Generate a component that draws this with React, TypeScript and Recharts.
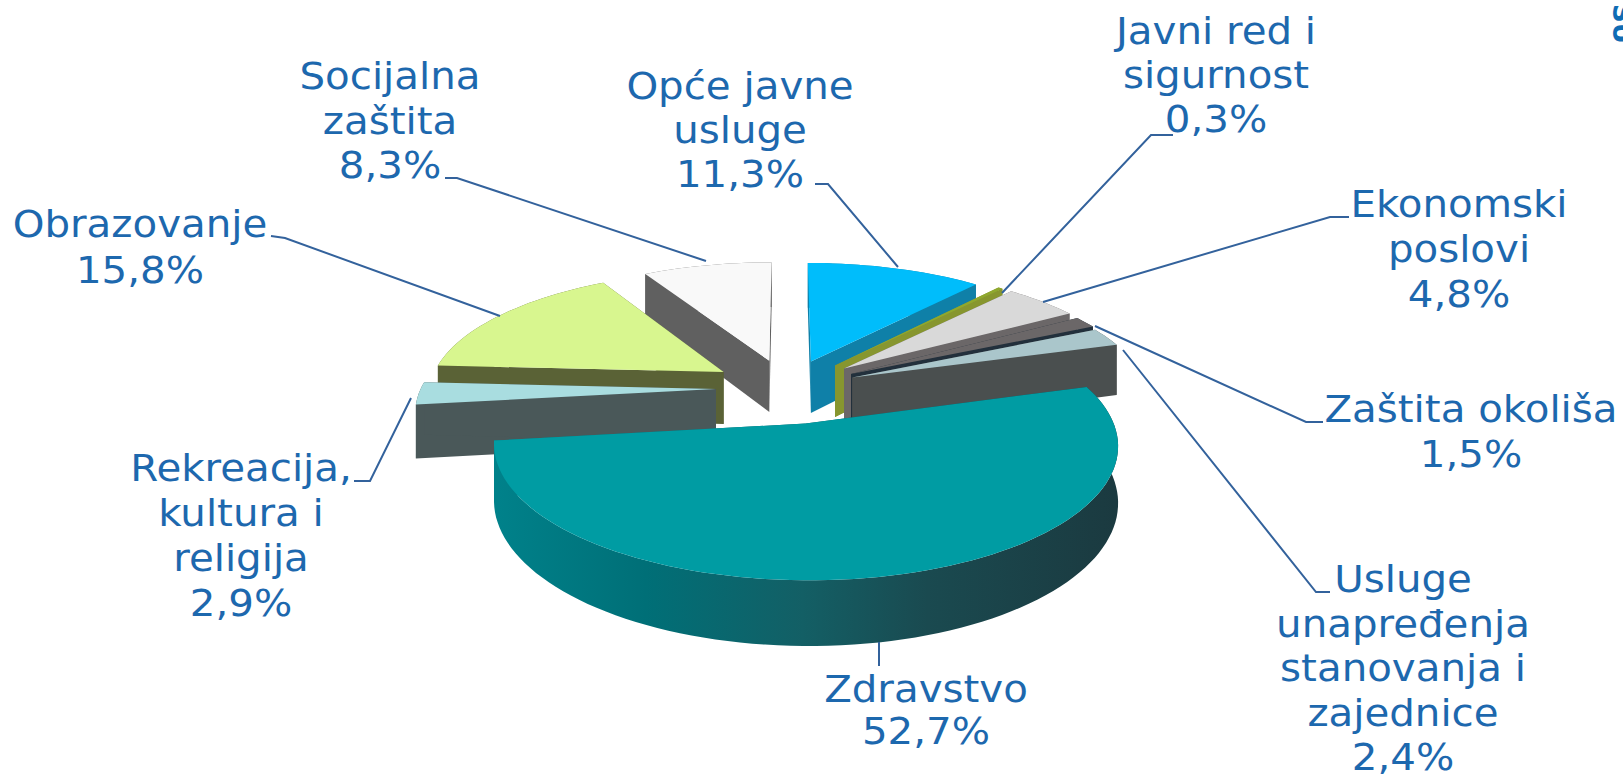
import { Pie, PieChart } from "recharts";

const names = [
  "Opće javne usluge",
  "Javni red i sigurnost",
  "Ekonomski poslovi",
  "Zaštita okoliša",
  "Usluge unapređenja stanovanja i zajednice",
  "Zdravstvo",
  "Rekreacija, kultura i religija",
  "Obrazovanje",
  "Socijalna zaštita",
];
const shares = [11.3, 0.3, 4.8, 1.5, 2.4, 52.7, 2.9, 15.8, 8.3];

const labelLines = [
  ["Opće javne", "usluge"],
  ["Javni red i", "sigurnost"],
  ["Ekonomski", "poslovi"],
  ["Zaštita okoliša"],
  ["Usluge", "unapređenja", "stanovanja i", "zajednice"],
  ["Zdravstvo"],
  ["Rekreacija,", "kultura i", "religija"],
  ["Obrazovanje"],
  ["Socijalna", "zaštita"],
];

const topColors = ["#00bdfb", "#8fa82e", "#d9d9d9", "#6b6768", "#aac6cb", "#009ca3", "#a9dde0", "#d8f68f", "#f9f9f9"];
const sideColors = ["#0f80a8", "#87962f", "#6b6768", "#22303c", "#4a4f4f", "url(#tealSide)", "#4a5859", "#5a6236", "#606060"];
const explode = [71, 75, 76, 74, 71, 85, 71, 76, 71];

// back to front, the teal slice has to cover its neighbours
const paintOrder = [8, 7, 6, 0, 1, 2, 3, 4, 5];

// label centre x, first baseline y, line gap
const labelPos = [
  [740, 99, 44],
  [1216, 44, 44],
  [1459, 217, 45],
  [1471, 422, 45],
  [1403, 592, 44.5],
  [926, 702, 42],
  [241, 481, 45],
  [140, 237, 46],
  [390, 89, 44.5],
];

// leader lines: from the label to the slice
const leaders = [
  [[815, 184], [828, 184], [898, 267]],
  [[1173, 135], [1151, 135], [1002, 293]],
  [[1349, 217], [1330, 217], [1043, 302]],
  [[1323, 422], [1306, 422], [1095, 326]],
  [[1330, 592], [1316, 592], [1123, 350]],
  [[879, 642], [879, 666]],
  [[354, 481], [370, 481], [411, 398]],
  [[271, 236], [285, 238], [500, 316]],
  [[445, 178], [457, 178], [706, 261]],
];

const data = names.map((name, i) => ({ name, value: shares[i] }));

const CX = 787;
const CY = 388;
const RADIUS = 295;
const TILT = 0.41;
const FOCAL = 1950;
const DEPTH = 53;
const TEXT = "#1d68ae";
const LEADER = "#33629c";

const project = (px: number, py: number) => {
  const s = FOCAL / (FOCAL - py);
  return { x: CX + px * s, y: CY + py * TILT * s, s };
};

const toPath = (pts: { x: number; y: number }[]) =>
  "M" + pts.map((p) => `${p.x.toFixed(1)},${p.y.toFixed(1)}`).join("L") + "Z";

const down = (p: { x: number; y: number; s: number }) => ({ ...p, y: p.y + DEPTH * p.s });

const rad = (deg: number) => (deg * Math.PI) / 180;

const Slice = ({ props, only }: { props: any; only: number }) => {
  const i = names.indexOf(props.payload?.name ?? props.name);
  if (i !== only) return null;
  const { startAngle, endAngle, outerRadius } = props;
  const mid = rad((startAngle + endAngle) / 2);
  const ox = Math.cos(mid) * explode[i];
  const oy = -Math.sin(mid) * explode[i];
  const steps = Math.max(2, Math.ceil(Math.abs(endAngle - startAngle) / 2));
  const arc = [];
  for (let k = 0; k <= steps; k++) {
    const a = rad(startAngle + ((endAngle - startAngle) * k) / steps);
    arc.push(project(ox + Math.cos(a) * outerRadius, oy - Math.sin(a) * outerRadius));
  }
  const apex = project(ox, oy);
  const first = arc[0];
  const last = arc[arc.length - 1];
  const side = sideColors[i];
  return (
    <g>
      <path d={toPath([...arc, ...arc.map(down).reverse()])} fill={side} />
      <path d={toPath([apex, first, down(first), down(apex)])} fill={side} />
      <path d={toPath([apex, last, down(last), down(apex)])} fill={side} />
      <path d={toPath([apex, ...arc])} fill={topColors[i]} />
    </g>
  );
};

const SliceLabel = (props: any) => {
  const i = names.indexOf(props.payload?.name ?? props.name);
  const [x, y, gap] = labelPos[i];
  const lines = [...labelLines[i], shares[i].toFixed(1).replace(".", ",") + "%"];
  return (
    <g>
      <polyline points={leaders[i].map((p) => p.join(",")).join(" ")} fill="none" stroke={LEADER} strokeWidth={2} />
      {lines.map((line, k) => (
        <text
          key={k}
          transform={`translate(${x},${y + gap * k}) scale(1.09,1)`}
          textAnchor="middle"
          fontFamily="DejaVu Sans"
          fontSize={37}
          fill={TEXT}
        >
          {line}
        </text>
      ))}
    </g>
  );
};

export default function App() {
  return (
    <div style={{ position: "absolute", left: 0, top: 0, width: 1623, height: 776, overflow: "hidden", background: "#fff" }}>
      <PieChart width={1623} height={776} margin={{ top: 0, right: 0, bottom: 0, left: 0 }}>
        <defs>
          <linearGradient id="tealSide" gradientUnits="userSpaceOnUse" x1="490" y1="0" x2="1115" y2="0">
            <stop offset="0%" stopColor="#00828b" />
            <stop offset="25%" stopColor="#006f77" />
            <stop offset="50%" stopColor="#135f65" />
            <stop offset="70%" stopColor="#1a4a50" />
            <stop offset="100%" stopColor="#1b3a40" />
          </linearGradient>
        </defs>
        {paintOrder.map((only, n) => (
          <Pie
            key={only}
            data={data}
            dataKey="value"
            nameKey="name"
            cx={CX}
            cy={CY}
            outerRadius={RADIUS}
            startAngle={90}
            endAngle={-270}
            stroke="none"
            isAnimationActive={false}
            shape={(props: any) => <Slice props={props} only={only} />}
            label={n === paintOrder.length - 1 ? SliceLabel : false}
            labelLine={false}
          />
        ))}
        <text transform="translate(1613,4) rotate(90)" fontFamily="DejaVu Sans" fontWeight="bold" fontSize={26} fill="#0f6cb5">
          SU
        </text>
      </PieChart>
    </div>
  );
}
